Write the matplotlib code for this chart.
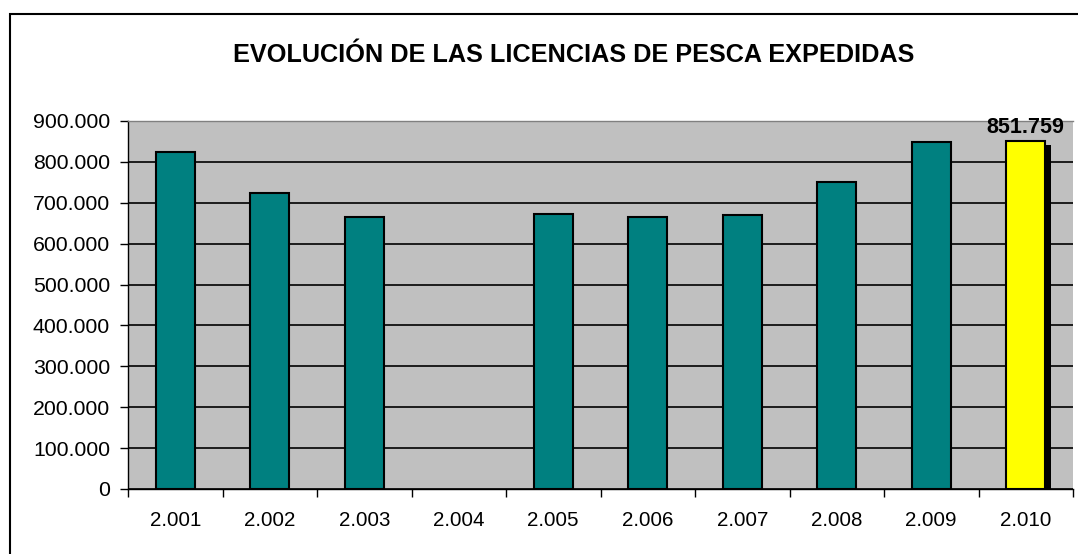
import matplotlib
matplotlib.use("Agg")
import matplotlib.pyplot as plt
import matplotlib.patheffects as pe
from matplotlib.patches import Rectangle
import numpy as np

plt.rcParams['font.family'] = ['Liberation Sans', 'DejaVu Sans']

years = ["2.001", "2.002", "2.003", "2.004", "2.005", "2.006", "2.007", "2.008", "2.009", "2.010"]
licencias = [825000, 723000, 664000, 0, 673000, 664000, 669000, 752000, 849000, 851759]
highlight_label = "851.759"
yticks = [0, 100000, 200000, 300000, 400000, 500000, 600000, 700000, 800000, 900000]
ytick_labels = ["0", "100.000", "200.000", "300.000", "400.000", "500.000", "600.000", "700.000", "800.000", "900.000"]
title = "EVOLUCIÓN DE LAS LICENCIAS DE PESCA EXPEDIDAS"

W, H = 1078, 554
fig = plt.figure(figsize=(W / 100, H / 100), dpi=100)
fig.patch.set_facecolor("white")

# outer frame
fig.patches.append(Rectangle((9.5 / W, -0.05), 1.2, (H - 13.5) / H + 0.05,
                             transform=fig.transFigure, fill=False,
                             edgecolor="black", linewidth=1.5, zorder=0))

ax = fig.add_axes([128 / W, (H - 489) / H, (1073 - 128) / W, (489 - 121) / H])
ax.set_facecolor("#C0C0C0")

x = np.arange(len(years))
colors = ["#008080"] * (len(years) - 1) + ["#FFFF00"]
bars = ax.bar(x, licencias, width=0.41, color=colors, edgecolor="black",
              linewidth=1.5, zorder=3)
for b, v in zip(bars, licencias):
    if v == 0:
        b.set_linewidth(0)
bars[-1].set_path_effects([pe.SimplePatchShadow(offset=(4.5, -3), shadow_rgbFace="black", alpha=1.0),
                           pe.Normal()])

ax.set_xlim(-0.5, len(years) - 0.5)
ax.set_ylim(0, 900000)
ax.set_yticks(yticks)
ax.set_yticklabels(ytick_labels, fontsize=15.3)
ax.set_xticks(x)
ax.set_xticklabels(years, fontsize=14.8)
ax.set_xticks(np.arange(len(years) + 1) - 0.5, minor=True)
ax.tick_params(axis="x", which="major", length=0, pad=16)
ax.tick_params(axis="x", which="minor", length=6, width=1, color="black", direction="out")
ax.tick_params(axis="y", length=6, width=1, direction="out", pad=7)
ax.yaxis.grid(True, color="black", linewidth=1.2, zorder=1)
ax.set_axisbelow(True)

ax.spines["top"].set_color("#808080")
ax.spines["top"].set_linewidth(1)
ax.spines["right"].set_visible(False)
ax.spines["left"].set_color("black")
ax.spines["bottom"].set_color("black")
ax.spines["left"].set_linewidth(1)
ax.spines["bottom"].set_linewidth(1)

ax.annotate(highlight_label, (x[-1], licencias[-1]), xytext=(0, 2), textcoords="offset points",
            ha="center", va="bottom", fontsize=15.5, fontweight="bold", zorder=5)

fig.text(574 / W, 1 - 55 / H, title, ha="center", va="center", fontsize=18.2, fontweight="bold")

fig.savefig("out.png", dpi=100)
